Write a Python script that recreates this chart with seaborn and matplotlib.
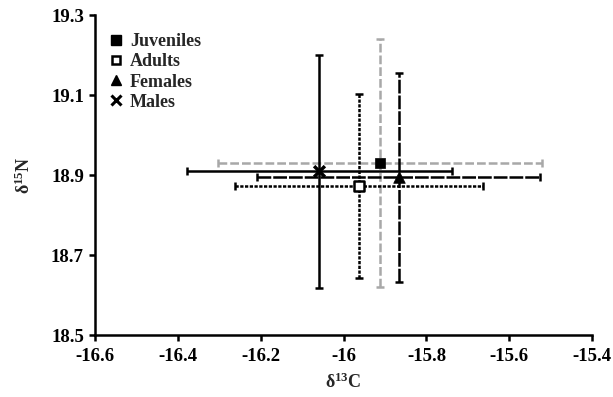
import matplotlib
matplotlib.use("Agg")
import matplotlib.pyplot as plt
import seaborn as sns
import pandas as pd
from matplotlib.lines import Line2D

groups = ["Juveniles", "Adults", "Females", "Males"]
d13c = [-15.912, -15.963, -15.867, -16.059]
d15n = [18.929, 18.873, 18.894, 18.909]
d13c_err = [0.390, 0.300, 0.341, 0.320]
d15n_err = [0.310, 0.230, 0.261, 0.291]

xticks = [-16.6, -16.4, -16.2, -16.0, -15.8, -15.6, -15.4]
xticklabels = ["-16.6", "-16.4", "-16.2", "-16", "-15.8", "-15.6", "-15.4"]
yticks = [18.5, 18.7, 18.9, 19.1, 19.3]
yticklabels = ["18.5", "18.7", "18.9", "19.1", "19.3"]

df = pd.DataFrame({"group": groups, "x": d13c, "y": d15n,
                   "xerr": d13c_err, "yerr": d15n_err})

sns.set_style("ticks")
plt.rcParams["font.family"] = ["Liberation Serif", "DejaVu Serif"]
plt.rcParams["font.weight"] = "bold"
plt.rcParams["mathtext.fontset"] = "custom"
plt.rcParams["mathtext.rm"] = "Liberation Serif:bold"
plt.rcParams["mathtext.it"] = "Liberation Serif:bold"
plt.rcParams["mathtext.bf"] = "Liberation Serif:bold"

fig = plt.figure(figsize=(6.13, 3.97), dpi=100)
ax = fig.add_axes([0.155, 0.156, 0.811, 0.806])

styles = {
    "Juveniles": dict(color="#a8a8a8", ls=(0, (3.5, 1.2))),
    "Adults": dict(color="black", ls=(0, (1.3, 0.6))),
    "Females": dict(color="black", ls=(0, (5.5, 0.8))),
    "Males": dict(color="black", ls="-"),
}
mstyle = {
    "Juveniles": dict(marker="s", s=60, color="black", edgecolor="black", linewidth=0.5),
    "Adults": dict(marker="s", s=50, color="white", edgecolor="black", linewidth=1.8),
    "Females": dict(marker="^", s=70, color="black", edgecolor="black", linewidth=0.5),
    "Males": dict(marker="x", s=60, color="black", linewidth=2.5),
}

for _, r in df.iterrows():
    st = styles[r["group"]]
    eb = ax.errorbar(r["x"], r["y"], xerr=r["xerr"], yerr=r["yerr"], fmt="none",
                     ecolor=st["color"], elinewidth=1.8, capsize=3, capthick=1.8,
                     zorder=2)
    for lc in eb[2]:
        lc.set_linestyle(st["ls"])

for g in groups:
    sns.scatterplot(data=df[df.group == g], x="x", y="y", ax=ax, zorder=3,
                    legend=False, **mstyle[g])

handles = [
    Line2D([], [], ls="none", marker="s", ms=6.5, mfc="black", mec="black"),
    Line2D([], [], ls="none", marker="s", ms=6, mfc="white", mec="black", mew=1.8),
    Line2D([], [], ls="none", marker="^", ms=7.5, mfc="black", mec="black"),
    Line2D([], [], ls="none", marker="x", ms=7, mec="black", mew=2.2),
]
ax.legend(handles, groups, loc="upper left", bbox_to_anchor=(-0.004, 0.988), frameon=False,
          prop={"family": "Liberation Serif", "weight": "bold", "size": 13},
          handletextpad=0.25, labelspacing=0.17, borderaxespad=0.5, handlelength=1.0,
          borderpad=0.3)

ax.set_xlim(-16.6, -15.4)
ax.set_ylim(18.5, 19.3)
ax.set_xticks(xticks)
ax.set_xticklabels(xticklabels)
ax.set_yticks(yticks)
ax.set_yticklabels(yticklabels)
ax.tick_params(direction="out", length=4, width=1.8, labelsize=13.5, colors="black")
ax.tick_params(axis="x", pad=5)
ax.tick_params(axis="y", pad=4)
for lab in ax.get_xticklabels() + ax.get_yticklabels():
    lab.set_fontweight("bold")
for s in ["top", "right"]:
    ax.spines[s].set_visible(False)
for s in ["left", "bottom"]:
    ax.spines[s].set_linewidth(1.8)
    ax.spines[s].set_color("black")

ax.set_xlabel(r"δ$^{13}$C", fontsize=13, fontweight="bold", labelpad=6)
ax.set_ylabel(r"δ$^{15}$N", fontsize=13, fontweight="bold", labelpad=12)

fig.savefig("out.png", dpi=100)
